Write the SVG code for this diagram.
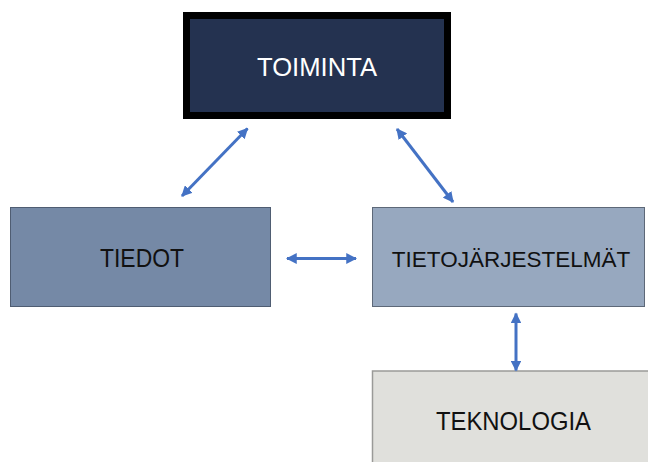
<svg xmlns="http://www.w3.org/2000/svg" width="648" height="462" viewBox="0 0 648 462">
  <defs>
    <marker id="head" viewBox="0 0 10 10" refX="9" refY="5" markerWidth="3.6" markerHeight="3.6" orient="auto-start-reverse" markerUnits="strokeWidth">
      <path d="M0,0 L10,5 L0,10 Z" fill="#4472c4"/>
    </marker>
    <style>
      .lbl { font-family: "Liberation Sans", Arial, sans-serif; font-size: 25px; text-anchor: middle; fill: #111; }
      .link { stroke: #4472c4; stroke-width: 3; fill: none; marker-start: url(#head); marker-end: url(#head); }
    </style>
  </defs>
  <rect width="648" height="462" fill="#ffffff"/>

  <g id="toiminta">
    <rect x="186.5" y="15.5" width="261" height="100" fill="#243250" stroke="#000" stroke-width="7"/>
    <text class="lbl" x="317" y="75.5" style="fill:#ffffff" textLength="120" lengthAdjust="spacingAndGlyphs">TOIMINTA</text>
  </g>

  <g id="tiedot">
    <rect x="10.5" y="207.5" width="260" height="99" fill="#7589a6" stroke="#4f5d72" stroke-width="1"/>
    <text class="lbl" x="142" y="267" textLength="84" lengthAdjust="spacingAndGlyphs">TIEDOT</text>
  </g>

  <g id="tietojarjestelmat">
    <rect x="372.5" y="207.5" width="272" height="99" fill="#97a8bf" stroke="#5d6878" stroke-width="1"/>
    <text class="lbl" x="511" y="267" style="font-size:22.5px">TIETOJÄRJESTELMÄT</text>
  </g>

  <g id="teknologia">
    <rect x="372.5" y="371" width="290" height="100" fill="#e0e0dc" stroke="#9a9a98" stroke-width="1.5"/>
    <text class="lbl" x="513.5" y="429.5" textLength="155" lengthAdjust="spacingAndGlyphs">TEKNOLOGIA</text>
  </g>

  <g id="connectors">
    <line class="link" x1="182" y1="196" x2="247.5" y2="128.5"/>
    <line class="link" x1="397" y1="129" x2="453" y2="202"/>
    <line class="link" x1="287" y1="258.5" x2="356" y2="258.5"/>
    <line class="link" x1="516" y1="313.5" x2="516" y2="370.5"/>
  </g>
</svg>
